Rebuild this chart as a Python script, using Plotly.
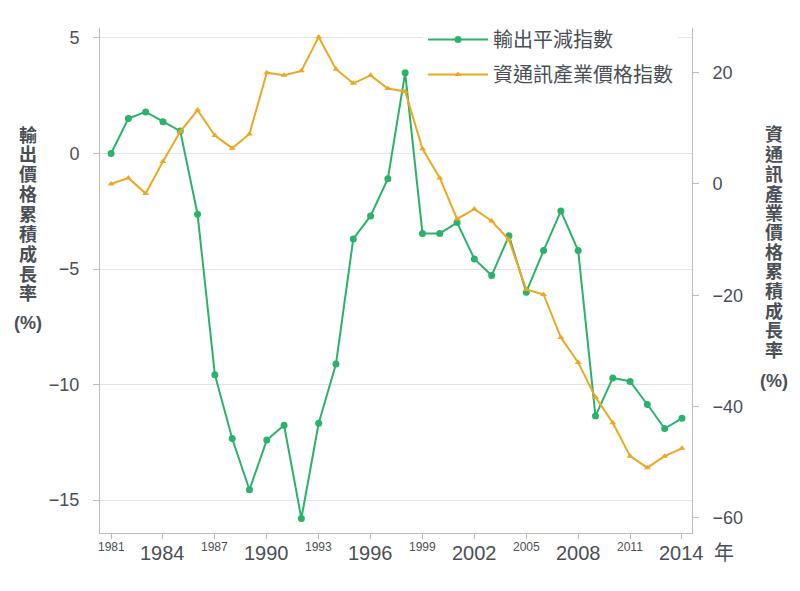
import plotly.graph_objects as go

# 年份與兩條累積成長率序列 (%)
years = list(range(1981, 2015))

export_deflator = [
    0.0, 1.51, 1.80, 1.37, 0.97, -2.63, -9.57, -12.33, -14.55, -12.40,
    -11.76, -15.79, -11.67, -9.11, -3.70, -2.70, -1.09, 3.49, -3.46, -3.46,
    -2.99, -4.56, -5.28, -3.56, -6.00, -4.20, -2.49, -4.20, -11.36, -9.71,
    -9.86, -10.86, -11.90, -11.46,
]

ict_price = [
    0.0, 1.07, -1.73, 4.04, 9.4, 13.26, 8.68, 6.42, 8.97, 19.98,
    19.5, 20.3, 26.4, 20.6, 18.07, 19.5, 17.13, 16.6, 6.3, 1.07,
    -6.3, -4.52, -6.66, -10.05, -18.97, -19.86, -27.6, -32.06, -38.3, -42.9,
    -48.9, -50.97, -48.9, -47.5,
]

tick_years = [1981, 1984, 1987, 1990, 1993, 1996, 1999, 2002, 2005, 2008, 2011, 2014]
left_ticks = [-15, -10, -5, 0, 5]
right_ticks = [-60, -40, -20, 0, 20]

left_title = "輸出價格累積成長率"
right_title = "資通訊產業價格累積成長率"

GREEN = "#2bb26a"
ORANGE = "#eaa823"
TEXT = "#4a4f55"
FONT = "Liberation Sans, Noto Sans CJK TC, sans-serif"

# plot area in page pixels; the page body adds an 8px offset
OFF = 8
L, R, T, B = 100, 692, 25, 533
W, H = 800, 591


def px_x(px):
    return (px - L) / (R - L)


def px_y(py):
    return (B - py) / (B - T)


def label(x, y, text, size, xref="paper", weight="normal"):
    return dict(
        x=x, xref=xref, y=y, yref="paper", text=text, showarrow=False,
        xanchor="center", yanchor="middle",
        font=dict(size=size, color=TEXT, family=FONT, weight=weight),
    )


fig = go.Figure()
fig.add_trace(go.Scatter(
    x=years, y=export_deflator, name="輸出平減指數",
    mode="lines+markers", legendgroup="a",
    line=dict(color=GREEN, width=2),
    marker=dict(symbol="circle", size=7, color=GREEN),
))
fig.add_trace(go.Scatter(
    x=years, y=ict_price, name="資通訊產業價格指數",
    mode="lines+markers", legendgroup="b", yaxis="y2",
    line=dict(color=ORANGE, width=2),
    marker=dict(symbol="triangle-up", size=6, color=ORANGE),
))

annotations = []
for i, yr in enumerate(tick_years):
    big = i % 2 == 1
    annotations.append(label(yr, px_y(553 if big else 547), str(yr), 20 if big else 12, xref="x"))
annotations.append(label(px_x(724), px_y(553), "年", 20))

# vertical axis titles, one character per line
for i, ch in enumerate(left_title):
    annotations.append(label(px_x(28), px_y(133 + i * 20), ch, 18, weight="bold"))
annotations.append(label(px_x(28), px_y(322), "(%)", 18, weight="bold"))
for i, ch in enumerate(right_title):
    annotations.append(label(px_x(774), px_y(133 + i * 19.7), ch, 18, weight="bold"))
annotations.append(label(px_x(774), px_y(380), "(%)", 18, weight="bold"))

fig.update_layout(
    width=W, height=H,
    margin=dict(l=L - OFF, r=W - R + OFF, t=T - OFF, b=H - B + OFF),
    paper_bgcolor="white", plot_bgcolor="white",
    font=dict(family=FONT, color=TEXT),
    showlegend=True,
    legend=dict(
        x=px_x(423), y=1.016, xanchor="left", yanchor="top",
        bgcolor="white", font=dict(size=20, color=TEXT, family=FONT),
        itemwidth=60, tracegroupgap=6,
    ),
    annotations=annotations,
    xaxis=dict(
        range=[1980.36, 2014.58], tickvals=tick_years, showticklabels=False,
        ticks="outside", ticklen=5, tickcolor="#bbbbbb",
        showline=True, linecolor="#bbbbbb", showgrid=False, zeroline=False,
    ),
    yaxis=dict(
        range=[-16.42, 5.43], tickvals=left_ticks,
        ticks="outside", ticklen=6, tickcolor="#bbbbbb",
        showline=True, linecolor="#bbbbbb",
        gridcolor="#e3e3e3", zeroline=False,
        tickfont=dict(size=18, color=TEXT), ticklabelstandoff=10,
    ),
    yaxis2=dict(
        range=[-62.7, 28.0], tickvals=right_ticks, overlaying="y", side="right",
        ticks="outside", ticklen=6, tickcolor="#bbbbbb",
        showline=True, linecolor="#bbbbbb", showgrid=False, zeroline=False,
        tickfont=dict(size=18, color=TEXT), ticklabelstandoff=10,
    ),
)

fig.write_html("out.html")
